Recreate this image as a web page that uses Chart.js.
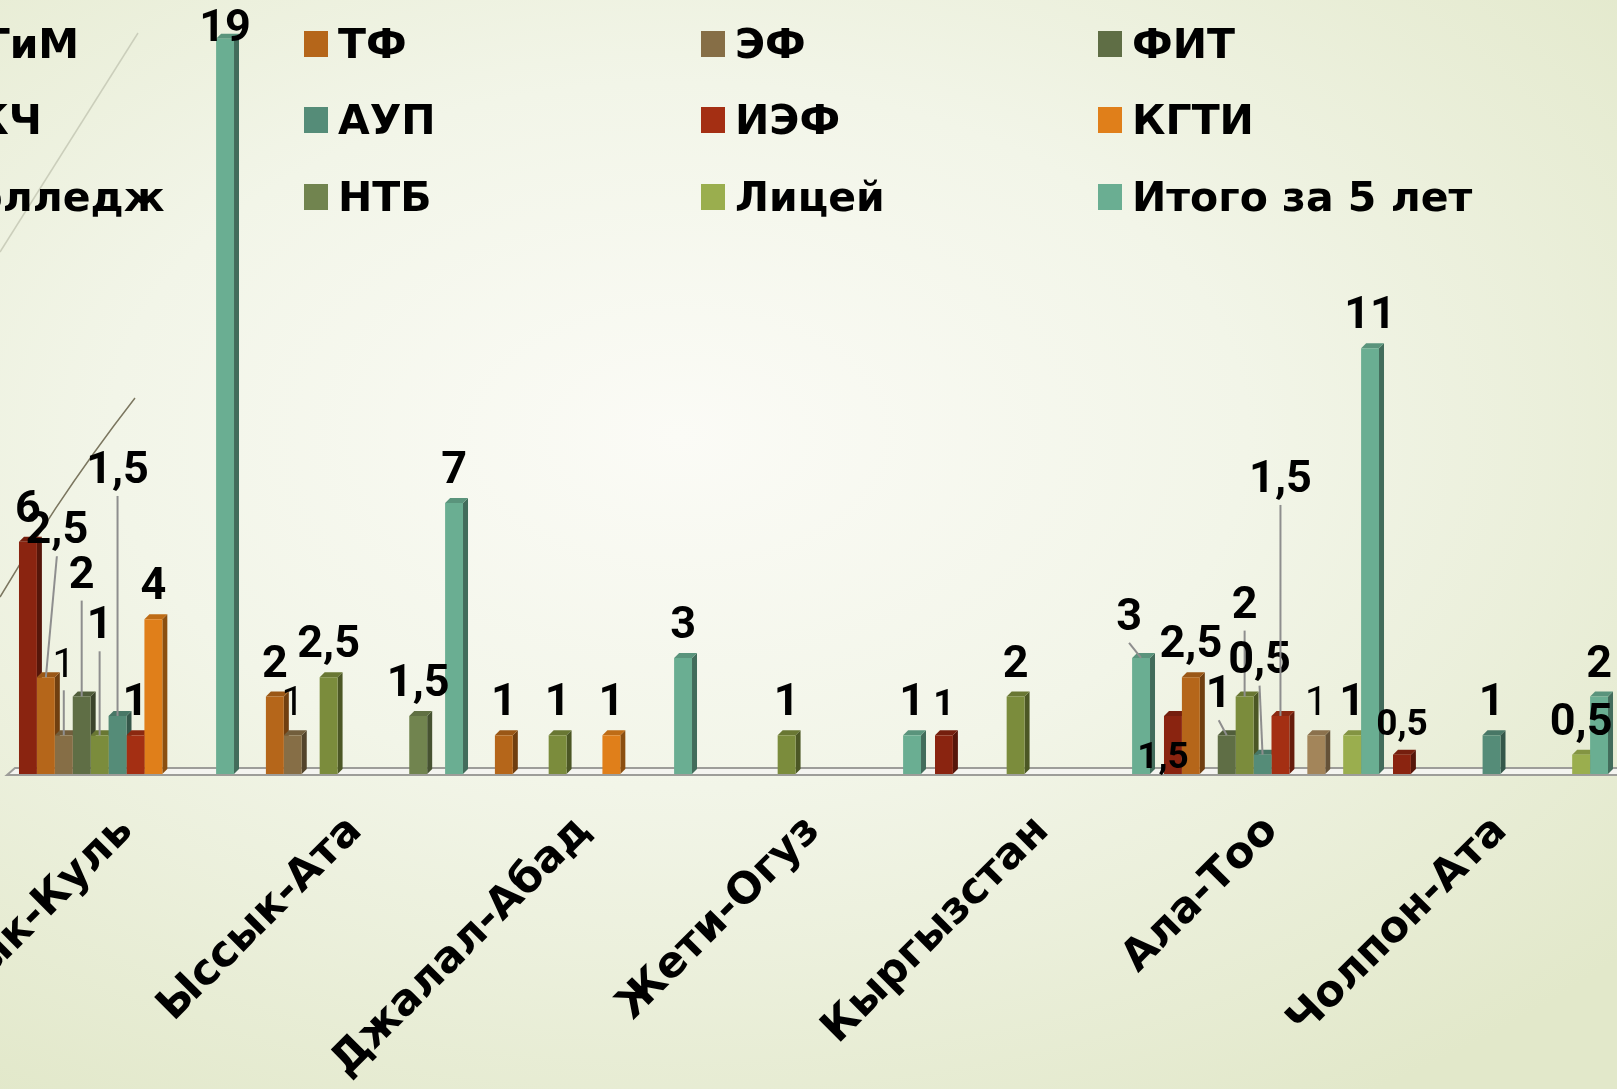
<!DOCTYPE html>
<html lang="ru">
<head>
  <meta charset="utf-8">
  <title>Итого за 5 лет</title>
  <script src="https://cdn.jsdelivr.net/npm/chart.js"></script>
  <style>
    html, body {
      margin: 0;
      padding: 0;
      width: 1617px;
      height: 1089px;
      overflow: hidden;
    }
    body {
      background: radial-gradient(ellipse 78% 72% at 42% 40%, #fbfbf6 0%, #f2f5e8 45%, #e2e8ca 100%);
      font-family: 'DejaVu Sans', sans-serif;
      position: relative;
    }
    #deco, .chart-box, #legend {
      position: absolute;
      left: 0;
      top: 0;
    }
    .chart-box {
      width: 1617px;
      height: 1089px;
    }
    .item {
      position: absolute;
      height: 50px;
      display: flex;
      align-items: center;
      white-space: nowrap;
      font-weight: bold;
      font-size: 41px;
      color: #000;
    }
    .item i {
      display: inline-block;
      width: 24px;
      height: 26px;
      margin-right: 10px;
    }
  </style>
</head>
<body>

  <!-- slide decoration lines -->
  <svg id="deco" width="1617" height="1089">
    <path d="M138 33 L0 252" stroke="#cbcebb" stroke-width="1.5" fill="none"/>
    <path d="M0 597 Q62 492 135 398" stroke="#7b765f" stroke-width="1.5" fill="none"/>
  </svg>

  <div class="chart-box">
    <canvas id="chart"></canvas>
  </div>

  <div id="legend"></div>

  <script>
    // regions
    const categories = ['Иссык-Куль', 'Ыссык-Ата', 'Джалал-Абад', 'Жети-Огуз', 'Кыргызстан', 'Ала-Тоо', 'Чолпон-Ата'];

    // series, in legend order
    const seriesNames = ['ФТиМ', 'ТФ', 'ЭФ', 'ФИТ', 'ИКЧ', 'АУП', 'ИЭФ', 'КГТИ', 'Колледж', 'НТБ', 'Лицей', 'Итого за 5 лет'];

    const ftim    = [6,    null, null, null, 1,    1.5,  0.5];
    const tf      = [2.5,  2,    1,    null, null, 2.5,  null];
    const ef      = [1,    1,    null, null, null, null, null];
    const fit     = [2,    null, null, null, null, 1,    null];
    const ikch    = [1,    2.5,  1,    1,    2,    2,    null];
    const aup     = [1.5,  null, null, null, null, 0.5,  1];
    const ief     = [1,    null, null, null, null, 1.5,  null];
    const kgti    = [4,    null, 1,    null, null, null, null];
    const college = [null, null, null, null, null, 1,    null];
    const ntb     = [null, 1.5,  null, null, null, null, null];
    const lyceum  = [null, null, null, null, null, 1,    0.5];
    const total   = [19,   7,    3,    1,    3,    11,   2];

    const seriesValues = [ftim, tf, ef, fit, ikch, aup, ief, kgti, college, ntb, lyceum, total];

    const colors = ['#8a2410', '#b5661a', '#866e46', '#5f6e45', '#7b8c3c', '#558c78',
                    '#a42f13', '#e07f1a', '#a3855a', '#71844f', '#9aae4e', '#6aae92'];

    // hand-placed data labels (PowerPoint style), key = series-category
    const labelTweaks = {
      '1-0': { dx: 11, dy: -114, line: true },
      '2-0': { dy: -38, line: true, thin: true },
      '3-0': { dy: -89, line: true },
      '4-0': { dy: -77, line: true },
      '5-0': { dy: -213, line: true },
      '11-0': { dy: 22 },
      '2-1': { thin: true },
      '0-4': { small: true },
      '11-4': { dx: -12, dy: -8, line: true },
      '0-5': { dx: -10, dy: 72, small: true },
      '3-5': { dx: -8, dy: -8, line: true },
      '4-5': { dy: -59, line: true },
      '5-5': { dx: -3, dy: -62, line: true },
      '6-5': { dy: -204, line: true },
      '8-5': { thin: true },
      '0-6': { small: true }
    };

    function shade(hex, k) {
      const n = parseInt(hex.slice(1), 16);
      const r = Math.round(((n >> 16) & 255) * k);
      const g = Math.round(((n >> 8) & 255) * k);
      const b = Math.round((n & 255) * k);
      return 'rgb(' + r + ',' + g + ',' + b + ')';
    }

    function poly(ctx, pts) {
      ctx.beginPath();
      ctx.moveTo(pts[0][0], pts[0][1]);
      for (let k = 1; k < pts.length; k++) ctx.lineTo(pts[k][0], pts[k][1]);
      ctx.closePath();
      ctx.fill();
    }

    // floor and 3D side/top faces, drawn before the bar fronts
    const bars3d = {
      id: 'bars3d',
      beforeDatasetsDraw(chart) {
        const ctx = chart.ctx;
        const a = chart.chartArea;
        const D = 5;
        ctx.save();
        ctx.beginPath();
        ctx.moveTo(a.left - 5, a.bottom + 1);
        ctx.lineTo(a.left + 3, a.bottom - 6);
        ctx.lineTo(a.right + 20, a.bottom - 6);
        ctx.lineTo(a.right + 20, a.bottom + 1);
        ctx.closePath();
        ctx.fillStyle = '#f4f4f0';
        ctx.fill();
        ctx.strokeStyle = '#9d9d99';
        ctx.lineWidth = 2;
        ctx.stroke();

        chart.data.datasets.forEach((ds, i) => {
          chart.getDatasetMeta(i).data.forEach((el, j) => {
            if (ds.data[j] == null) return;
            const l = el.x - el.width / 2, r = el.x + el.width / 2;
            const c = colors[i];
            ctx.fillStyle = shade(c, 0.62);
            poly(ctx, [[r, el.y], [r + D, el.y - D], [r + D, el.base - D], [r, el.base]]);
            ctx.fillStyle = shade(c, 0.85);
            poly(ctx, [[l, el.y], [l + D, el.y - D], [r + D, el.y - D], [r, el.y]]);
          });
        });
        ctx.restore();
      }
    };

    const valueLabels = {
      id: 'valueLabels',
      afterDatasetsDraw(chart) {
        const ctx = chart.ctx;
        ctx.save();
        ctx.textAlign = 'center';
        ctx.textBaseline = 'alphabetic';
        chart.data.datasets.forEach((ds, i) => {
          chart.getDatasetMeta(i).data.forEach((el, j) => {
            const v = ds.data[j];
            if (v == null) return;
            const o = labelTweaks[i + '-' + j] || {};
            const lx = el.x + (o.dx || 0);
            const ly = el.y - 20 + (o.dy || 0);
            if (o.line) {
              ctx.strokeStyle = '#8e8e8e';
              ctx.lineWidth = 2;
              ctx.beginPath();
              ctx.moveTo(lx, ly + 13);
              ctx.lineTo(el.x, el.y);
              ctx.stroke();
            }
            if (o.thin) ctx.font = 'normal 40px Roboto';
            else if (o.small) ctx.font = 'bold 37px Roboto';
            else ctx.font = 'bold 45px Roboto';
            ctx.fillStyle = '#000';
            ctx.fillText(String(v).replace('.', ','), lx, ly);
          });
        });
        ctx.restore();
      }
    };

    // legend, 4 columns, row-major (first column runs off the left edge)
    const legend = document.getElementById('legend');
    seriesNames.forEach((name, i) => {
      const div = document.createElement('div');
      div.className = 'item';
      div.style.left = ((i % 4) * 397 - 93) + 'px';
      div.style.top = ([44, 120, 197][Math.floor(i / 4)] - 25) + 'px';
      div.innerHTML = '<i style="background:' + colors[i] + '"></i>' + name;
      legend.appendChild(div);
    });

    window.onload = function() {
      const ctx = document.getElementById('chart').getContext('2d');
      new Chart(ctx, {
        type: 'bar',
        data: {
          labels: categories,
          datasets: seriesNames.map((name, i) => ({
            label: name,
            data: seriesValues[i],
            backgroundColor: colors[i],
            borderWidth: 0,
            categoryPercentage: 0.939,
            barPercentage: 1.0
          }))
        },
        options: {
          responsive: true,
          maintainAspectRatio: false,
          animation: false,
          layout: { padding: { left: 12, right: 2, top: 0, bottom: 0 } },
          plugins: {
            legend: { display: false },
            tooltip: { enabled: false }
          },
          scales: {
            x: {
              grid: { display: false },
              border: { display: false },
              ticks: {
                autoSkip: false,
                minRotation: 45,
                maxRotation: 45,
                padding: 24,
                color: '#000',
                font: { family: 'DejaVu Sans', weight: 'bold', size: 43 }
              },
              afterFit(s) {
                s.height = 315;
                s.paddingLeft = 0;
                s.paddingRight = 0;
              }
            },
            y: { display: false, min: 0, max: 20 }
          }
        },
        plugins: [bars3d, valueLabels]
      });
    };
  </script>

</body>
</html>
